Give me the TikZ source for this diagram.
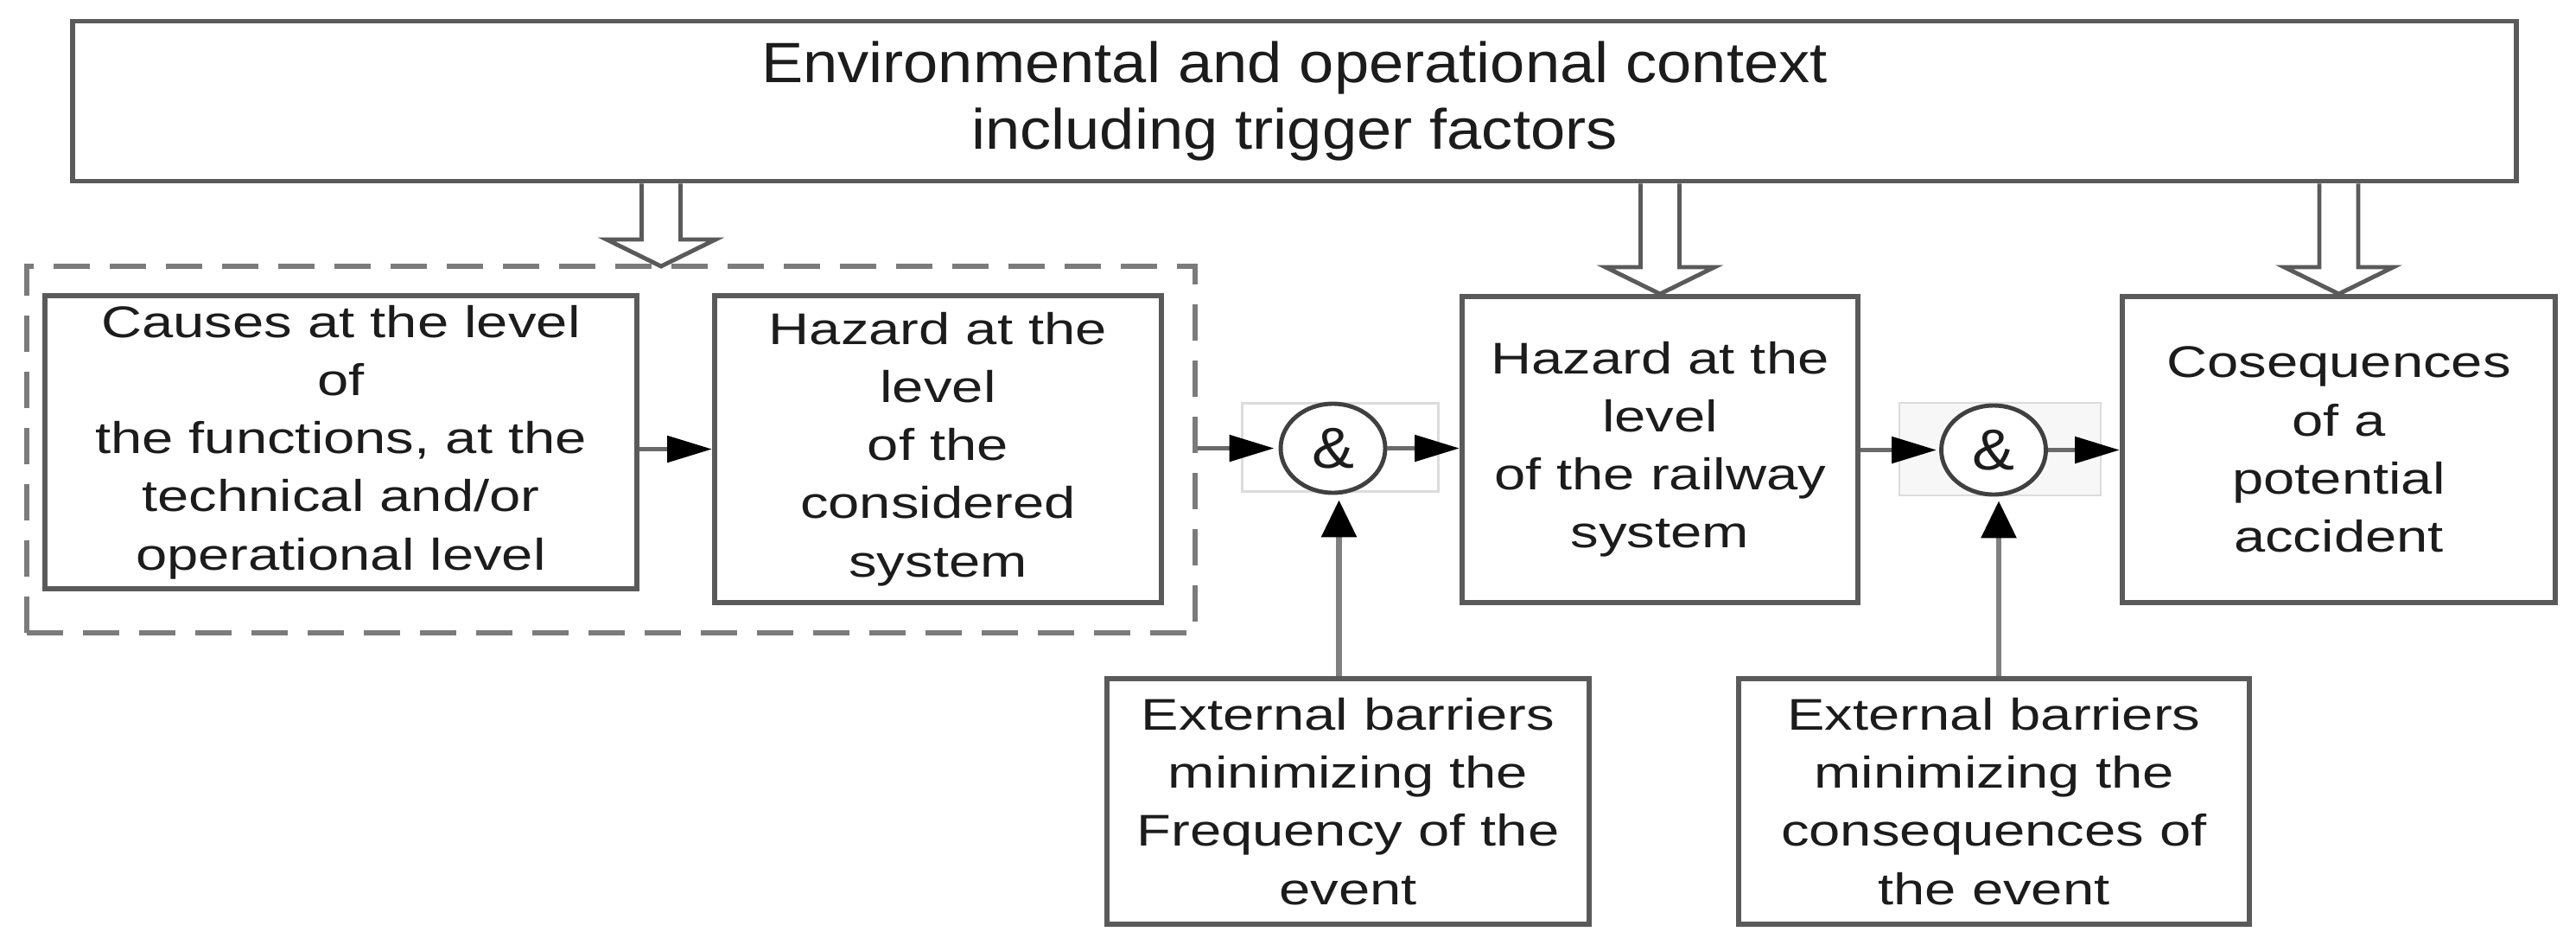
\documentclass[tikz,border=0pt]{standalone}
\usepackage{fontspec}
\setmainfont{Liberation Sans}
\newfontfamily\boxfont[FakeStretch=1.27]{Liberation Sans}
\newfontfamily\titlefont[FakeStretch=1.1]{Liberation Sans}
\newfontfamily\ampfont[FakeStretch=1.1]{Liberation Sans}
\usetikzlibrary{arrows.meta,calc,shapes.geometric}

\definecolor{boxline}{HTML}{5A5A5A}
\definecolor{txt}{HTML}{1C1C1C}
\definecolor{faint}{HTML}{DCDCDC}
\definecolor{arrline}{HTML}{6A6A6A}

\tikzset{
 blk/.style={draw=boxline, line width=1.7pt, fill=white, inner sep=0pt, align=center, text=txt, font={\boxfont\fontsize{14.6}{19.1}\selectfont}},
 titlebox/.style={blk, font={\titlefont\fontsize{18.7}{21.9}\selectfont}},
 grp/.style={draw=boxline!80, line width=1.8pt, dash pattern=on 0.42cm off 0.23cm, inner sep=0pt},
 andnode/.style={ellipse, draw=black!75, line width=1.4pt, inner sep=0pt, minimum width=1.21cm, minimum height=1.03cm, font={\ampfont\fontsize{19}{19}\selectfont}, text=txt, fill=white},
 faintbox/.style={draw=faint, line width=0.8pt, inner sep=0pt},
 harr/.style={line width=1.6pt, draw=arrline, -{Triangle[length=0.52cm,width=0.30cm,color=black]}},
 varr/.style={line width=1.8pt, draw=arrline!85, -{Triangle[length=0.43cm,width=0.40cm,color=black]}},
 hollow/.style={draw=boxline, line width=1.4pt, line join=miter},
}

\newcommand\blockarrow[2]{%
  \draw[hollow] ($(#1)+(-0.225,0)$) -- ($(#2)+(-0.225,0.31)$) -- ($(#2)+(-0.63,0.31)$) -- (#2)
    -- ($(#2)+(0.63,0.31)$) -- ($(#2)+(0.225,0.31)$) -- ($(#1)+(0.225,0)$);}

\begin{document}
\begin{tikzpicture}
\useasboundingbox (0,0) rectangle (29.81,-10.99);

\node[titlebox, minimum width=28.28cm, minimum height=1.85cm] (top) at (14.98,-1.17)
  {Environmental and operational context\\including trigger factors};

\node[grp, minimum width=13.52cm, minimum height=4.24cm] (grp) at (7.07,-5.20) {};
\node[blk, minimum width=6.85cm, minimum height=3.39cm] (causes) at (3.945,-5.115)
  {Causes at the level\\of\\the functions, at the\\technical and/or\\operational level};
\node[blk, minimum width=5.17cm, minimum height=3.55cm] (hazsys) at (10.855,-5.195)
  {Hazard at the\\level\\of the\\considered\\system};

\node[faintbox, minimum width=2.27cm, minimum height=1.02cm] (f1) at (15.51,-5.175) {};
\node[andnode] (and1) at (15.425,-5.185) {\&};

\node[blk, minimum width=4.58cm, minimum height=3.54cm] (rail) at (19.21,-5.20)
  {Hazard at the\\level\\of the railway\\system};

\node[faintbox, fill=black!3, minimum width=2.33cm, minimum height=1.07cm] (f2) at (23.145,-5.195) {};
\node[andnode] (and2) at (23.07,-5.205) {\&};

\node[blk, minimum width=5.01cm, minimum height=3.54cm] (cons) at (27.065,-5.20)
  {Cosequences\\of a\\potential\\accident};

\node[blk, minimum width=5.58cm, minimum height=2.84cm] (ext1) at (15.60,-9.27)
  {External barriers\\minimizing the\\Frequency of the\\event};
\node[blk, minimum width=5.91cm, minimum height=2.84cm] (ext2) at (23.075,-9.27)
  {External barriers\\minimizing the\\consequences of\\the event};

% block arrows from the context box
\coordinate (t1) at (7.65,-3.08);
\coordinate (s1) at (top.south -| t1);
\coordinate (s2) at (top.south -| rail.north);
\coordinate (s3) at (top.south -| cons.north);
\blockarrow{s1}{t1}
\blockarrow{s2}{rail.north}
\blockarrow{s3}{cons.north}

% flow arrows
\draw[harr] (causes.east |- hazsys.west) -- (hazsys.west);
\draw[harr] (grp.east |- and1.west) -- ([xshift=-0.05cm]and1.west);
\draw[harr] (and1.east) -- (and1.east -| rail.west);
\draw[harr] (rail.east |- and2.west) -- ([xshift=-0.03cm]and2.west);
\draw[harr] (and2.east) -- (and2.east -| cons.west);
\draw[varr] ([xshift=0.07cm]and1.south |- ext1.north) -- ([xshift=0.07cm,yshift=-0.06cm]and1.south);
\draw[varr] ([xshift=0.06cm]and2.south |- ext2.north) -- ([xshift=0.06cm,yshift=-0.05cm]and2.south);
\end{tikzpicture}
\end{document}
